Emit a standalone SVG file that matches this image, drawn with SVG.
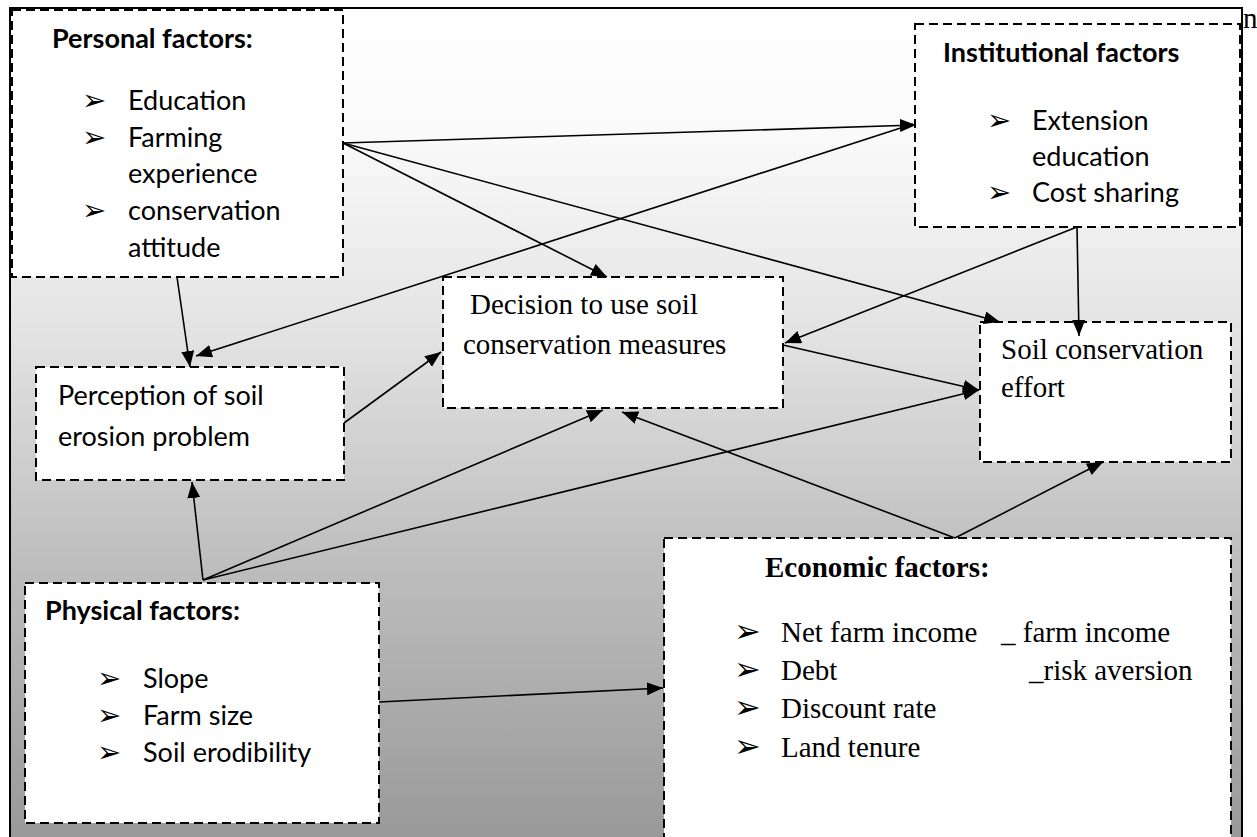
<svg xmlns="http://www.w3.org/2000/svg" width="1257" height="837" viewBox="0 0 1257 837">
<defs>
<linearGradient id="bg" gradientUnits="userSpaceOnUse" x1="0" y1="8" x2="0" y2="837">
<stop offset="0" stop-color="#ffffff"/>
<stop offset="0.15" stop-color="#fafafa"/>
<stop offset="0.4" stop-color="#e2e2e2"/>
<stop offset="0.65" stop-color="#c0c0c0"/>
<stop offset="1" stop-color="#999999"/>
</linearGradient>
<marker id="ah" markerUnits="userSpaceOnUse" markerWidth="17" markerHeight="14" refX="16" refY="6.5" orient="auto">
<path d="M0,0 L16,6.5 L0,13 z" fill="#000"/>
</marker>
</defs>
<style>
.box{fill:#fff;stroke:#000;stroke-width:2;stroke-dasharray:9 5}
.cal{font-family:Lato,"Open Sans",sans-serif;font-size:27px;fill:#000}
.calb{font-family:Lato,"Open Sans",sans-serif;font-size:27px;font-weight:bold;fill:#000}
.tnr{font-family:"Liberation Serif","Times New Roman",serif;font-size:29px;fill:#000}
.tnrb{font-family:"Liberation Serif","Times New Roman",serif;font-size:29px;font-weight:bold;fill:#000}
.bul{font-family:"DejaVu Sans",sans-serif;font-size:29px;fill:#000}
.bul2{font-family:"DejaVu Sans",sans-serif;font-size:32px;fill:#000}
.con line{stroke:#000;stroke-width:1.6;fill:none;marker-end:url(#ah)}
</style>
<rect x="0" y="0" width="1257" height="837" fill="#fff"/>
<rect x="10" y="8" width="1232" height="845" fill="url(#bg)" stroke="#000" stroke-width="2"/>
<text x="1243" y="28" class="tnr" font-size="25">n</text>

<g id="personal">
<rect class="box" x="12" y="10" width="331" height="267"/>
<text class="calb" x="52" y="48">Personal factors:</text>
<text class="bul" x="82" y="110">➢</text><text class="cal" x="128" y="110">Education</text>
<text class="bul" x="82" y="147">➢</text><text class="cal" x="128" y="147">Farming</text>
<text class="cal" x="128" y="183">experience</text>
<text class="bul" x="82" y="220">➢</text><text class="cal" x="128" y="220">conservation</text>
<text class="cal" x="128" y="257">attitude</text>
</g>

<g id="institutional">
<rect class="box" x="915" y="24" width="325" height="203"/>
<text class="calb" x="943" y="62">Institutional factors</text>
<text class="bul" x="987" y="130">➢</text><text class="cal" x="1032" y="130">Extension</text>
<text class="cal" x="1032" y="166">education</text>
<text class="bul" x="987" y="202">➢</text><text class="cal" x="1032" y="202">Cost sharing</text>
</g>

<g id="perception">
<rect class="box" x="36" y="367" width="308" height="113"/>
<text class="cal" x="58" y="405">Perception of soil</text>
<text class="cal" x="58" y="446">erosion problem</text>
</g>

<g id="decision">
<rect class="box" x="443" y="277" width="340" height="131"/>
<text class="tnr" x="470" y="314">Decision to use soil</text>
<text class="tnr" x="463" y="354">conservation measures</text>
</g>

<g id="effort">
<rect class="box" x="980" y="322" width="251" height="140"/>
<text class="tnr" x="1001" y="359">Soil conservation</text>
<text class="tnr" x="1001" y="397">effort</text>
</g>

<g id="physical">
<rect class="box" x="25" y="583" width="354" height="240"/>
<text class="calb" x="45" y="620">Physical factors:</text>
<text class="bul" x="97" y="688">➢</text><text class="cal" x="143" y="688">Slope</text>
<text class="bul" x="97" y="725">➢</text><text class="cal" x="143" y="725">Farm size</text>
<text class="bul" x="97" y="762">➢</text><text class="cal" x="143" y="762">Soil erodibility</text>
</g>

<g id="economic">
<rect class="box" x="664" y="538" width="567" height="320"/>
<text class="tnrb" x="765" y="577">Economic factors:</text>
<text class="bul2" x="734" y="642">➢</text><text class="tnr" x="781" y="642">Net farm income</text>
<text class="tnr" x="1001" y="642">_ farm income</text>
<text class="bul2" x="734" y="680">➢</text><text class="tnr" x="781" y="680">Debt</text>
<text class="tnr" x="1029" y="680">_risk aversion</text>
<text class="bul2" x="734" y="718">➢</text><text class="tnr" x="781" y="718">Discount rate</text>
<text class="bul2" x="734" y="757">➢</text><text class="tnr" x="781" y="757">Land tenure</text>
</g>

<g id="connectors" class="con">
<line x1="343" y1="143" x2="916" y2="125"/>
<line x1="343" y1="143" x2="607" y2="277"/>
<line x1="343" y1="143" x2="1000" y2="322"/>
<line x1="913" y1="124" x2="196" y2="356"/>
<line x1="1077" y1="227" x2="785" y2="343"/>
<line x1="1077" y1="227" x2="1079" y2="336"/>
<line x1="783" y1="345" x2="979" y2="390"/>
<line x1="344" y1="423" x2="441" y2="352"/>
<line x1="203" y1="580" x2="192" y2="482"/>
<line x1="203" y1="580" x2="603" y2="410"/>
<line x1="203" y1="580" x2="979" y2="390"/>
<line x1="955" y1="538" x2="622" y2="412"/>
<line x1="955" y1="538" x2="1103" y2="462"/>
<line x1="379" y1="702" x2="663" y2="688"/>
<line x1="177" y1="277" x2="190" y2="367"/>
</g>
</svg>
